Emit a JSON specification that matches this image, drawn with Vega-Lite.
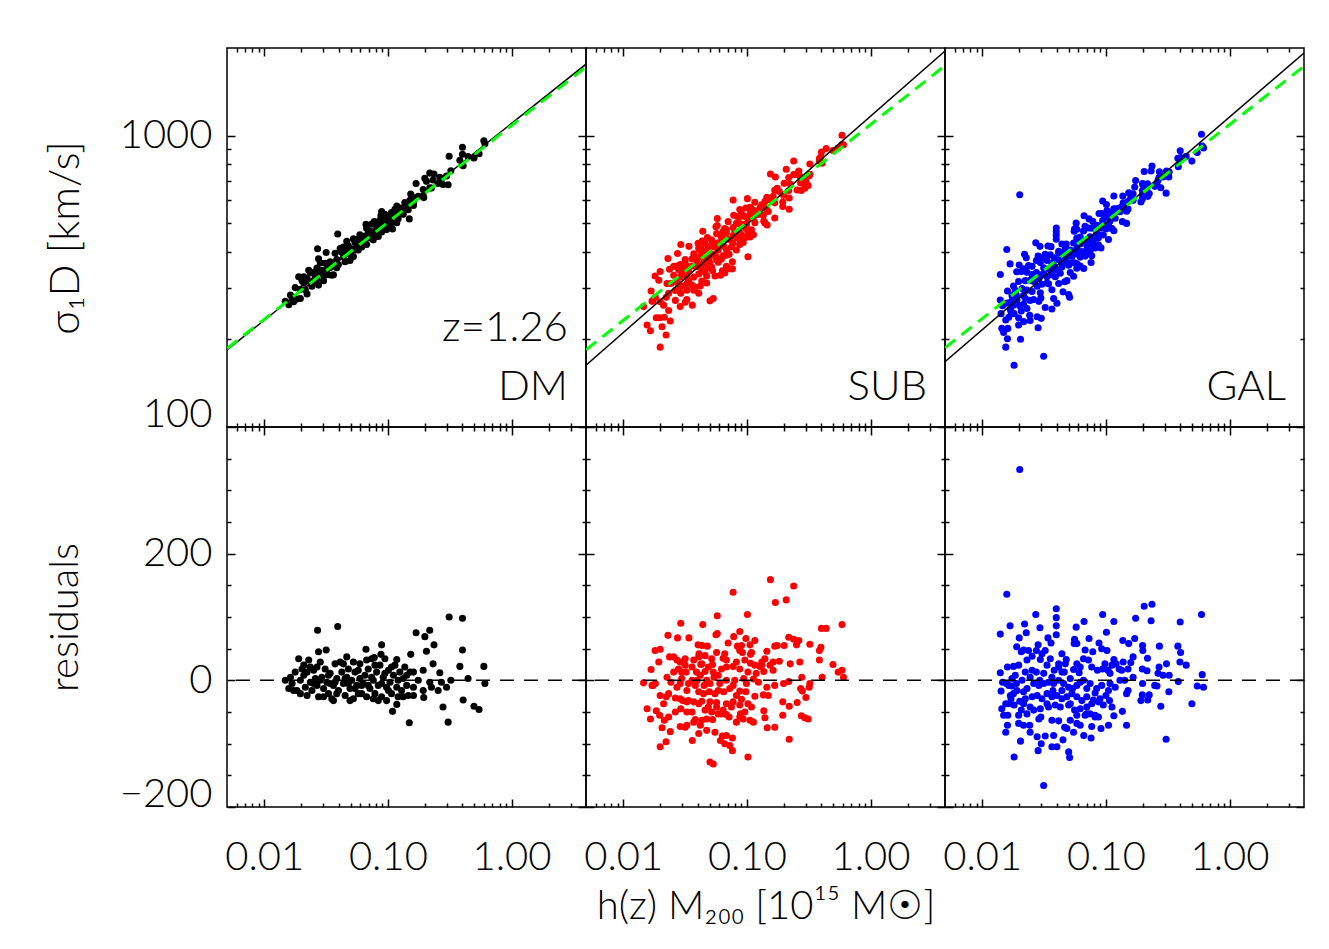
{
"$schema":"https://vega.github.io/schema/vega-lite/v6.json",
"background":"white",
"padding":{"left":43,"top":46,"right":5,"bottom":5},
"config":{"view":{"stroke":"black","strokeWidth":1.5},"concat":{"spacing":0},
"axis":{"grid":false,"domain":false,"tickColor":"black","tickWidth":1.5,"labelFont":"Lato","labelFontWeight":300,"labelFontSize":40,"labelColor":"black","titleFont":"Lato","titleFontWeight":300,"titleFontSize":40,"titleColor":"black"}},
"datasets":{
"dml":[{"x":0.005,"y":184},{"x":4,"y":1760}],
"dmg":[{"x":0.005,"y":186},{"x":4,"y":1720}],
"subl":[{"x":0.005,"y":163},{"x":4,"y":1954}],
"subg":[{"x":0.005,"y":184},{"x":4,"y":1740}],
"gall":[{"x":0.005,"y":167.5},{"x":4,"y":1922}],
"galg":[{"x":0.005,"y":187},{"x":4,"y":1732}],
"dm":[{"x":0.0148,"s":270,"r":0},{"x":0.0158,"s":263,"r":-13},{"x":0.0168,"s":277,"r":-5},{"x":0.0178,"s":301,"r":13},{"x":0.019,"s":328,"r":34},{"x":0.0196,"s":297,"r":0},{"x":0.0202,"s":318,"r":18},{"x":0.0209,"s":312,"r":8},{"x":0.0215,"s":296,"r":-11},{"x":0.0222,"s":323,"r":13},{"x":0.0229,"s":345,"r":32},{"x":0.0236,"s":314,"r":-3},{"x":0.0243,"s":304,"r":-16},{"x":0.0251,"s":339,"r":16},{"x":0.0259,"s":330,"r":3},{"x":0.0267,"s":322,"r":-8},{"x":0.0275,"s":307,"r":-26},{"x":0.0284,"s":366,"r":29},{"x":0.0292,"s":345,"r":5},{"x":0.0302,"s":331,"r":-13},{"x":0.0311,"s":365,"r":18},{"x":0.0321,"s":348,"r":-3},{"x":0.0331,"s":333,"r":-21},{"x":0.0341,"s":369,"r":11},{"x":0.0352,"s":332,"r":-29},{"x":0.0363,"s":357,"r":-8},{"x":0.0374,"s":395,"r":26},{"x":0.0386,"s":376,"r":3},{"x":0.0398,"s":361,"r":-16},{"x":0.0411,"s":410,"r":29},{"x":0.0424,"s":398,"r":13},{"x":0.0437,"s":384,"r":-5},{"x":0.0451,"s":369,"r":-24},{"x":0.0465,"s":402,"r":5},{"x":0.0479,"s":419,"r":18},{"x":0.0494,"s":392,"r":-13},{"x":0.051,"s":409,"r":0},{"x":0.0526,"s":385,"r":-29},{"x":0.0542,"s":431,"r":13},{"x":0.0559,"s":414,"r":-8},{"x":0.0576,"s":442,"r":16},{"x":0.0594,"s":434,"r":3},{"x":0.0614,"s":415,"r":-21},{"x":0.0632,"s":435,"r":-5},{"x":0.0652,"s":452,"r":8},{"x":0.0673,"s":423,"r":-26},{"x":0.0694,"s":472,"r":18},{"x":0.0716,"s":446,"r":-13},{"x":0.0739,"s":497,"r":34},{"x":0.0762,"s":468,"r":0},{"x":0.0786,"s":452,"r":-21},{"x":0.0811,"s":491,"r":13},{"x":0.0836,"s":475,"r":-8},{"x":0.0862,"s":512,"r":24},{"x":0.089,"s":467,"r":-26},{"x":0.0918,"s":503,"r":5},{"x":0.0946,"s":537,"r":34},{"x":0.0976,"s":497,"r":-11},{"x":0.101,"s":530,"r":16},{"x":0.104,"s":516,"r":-3},{"x":0.107,"s":503,"r":-21},{"x":0.111,"s":538,"r":8},{"x":0.114,"s":559,"r":24},{"x":0.118,"s":530,"r":-11},{"x":0.121,"s":545,"r":0},{"x":0.125,"s":564,"r":13},{"x":0.129,"s":541,"r":-16},{"x":0.133,"s":566,"r":3},{"x":0.137,"s":590,"r":21},{"x":0.142,"s":567,"r":-8},{"x":0.146,"s":557,"r":-24},{"x":0.151,"s":600,"r":13},{"x":0.161,"s":613,"r":13},{"x":0.161,"s":589,"r":-11},{"x":0.161,"s":576,"r":-24},{"x":0.176,"s":619,"r":0},{"x":0.193,"s":654,"r":16},{"x":0.193,"s":622,"r":-16},{"x":0.195,"s":613,"r":-27},{"x":0.205,"s":697,"r":46},{"x":0.218,"s":662,"r":-3},{"x":0.225,"s":661,"r":-11},{"x":0.232,"s":705,"r":26},{"x":0.236,"s":739,"r":56},{"x":0.255,"s":685,"r":-16},{"x":0.263,"s":720,"r":12},{"x":0.271,"s":712,"r":-3},{"x":0.279,"s":680,"r":-42},{"x":0.298,"s":727,"r":-11},{"x":0.307,"s":679,"r":-66},{"x":0.323,"s":758,"r":0},{"x":0.313,"s":850,"r":100},{"x":0.401,"s":913,"r":98},{"x":0.401,"s":863,"r":48},{"x":0.382,"s":824,"r":22},{"x":0.406,"s":788,"r":-31},{"x":0.445,"s":848,"r":3},{"x":0.497,"s":839,"r":-41},{"x":0.546,"s":867,"r":-46},{"x":0.597,"s":960,"r":22},{"x":0.609,"s":938,"r":-5},{"x":0.169,"s":685,"r":75},{"x":0.199,"s":714,"r":69},{"x":0.218,"s":744,"r":79},{"x":0.153,"s":631,"r":41},{"x":0.149,"s":518,"r":-67},{"x":0.109,"s":478,"r":-49},{"x":0.118,"s":503,"r":-38},{"x":0.118,"s":574,"r":33},{"x":0.089,"s":549,"r":56},{"x":0.0879,"s":532,"r":41},{"x":0.0776,"s":507,"r":36},{"x":0.0665,"s":496,"r":49},{"x":0.0317,"s":397,"r":48},{"x":0.0275,"s":378,"r":45},{"x":0.027,"s":409,"r":79},{"x":0.0393,"s":460,"r":85},{"x":0.0209,"s":328,"r":24},{"x":0.0236,"s":338,"r":21},{"x":0.0184,"s":275,"r":-16},{"x":0.0267,"s":351,"r":21},{"x":0.0302,"s":318,"r":-26},{"x":0.0363,"s":333,"r":-32},{"x":0.0494,"s":373,"r":-32},{"x":0.0437,"s":415,"r":26},{"x":0.0594,"s":457,"r":26},{"x":0.0673,"s":481,"r":32},{"x":0.0222,"s":286,"r":-24},{"x":0.0341,"s":353,"r":-5},{"x":0.0526,"s":443,"r":29},{"x":0.0836,"s":451,"r":-32},{"x":0.0976,"s":476,"r":-32},{"x":0.0331,"s":362,"r":8},{"x":0.0374,"s":366,"r":-3},{"x":0.0451,"s":396,"r":3},{"x":0.0542,"s":405,"r":-13},{"x":0.0614,"s":428,"r":-8},{"x":0.0739,"s":468,"r":5},{"x":0.089,"s":488,"r":-5},{"x":0.101,"s":498,"r":-16},{"x":0.121,"s":519,"r":-26},{"x":0.0196,"s":276,"r":-21},{"x":0.0163,"s":284,"r":5},{"x":0.0173,"s":269,"r":-16},{"x":0.0251,"s":318,"r":-5},{"x":0.0284,"s":337,"r":0},{"x":0.0386,"s":352,"r":-21},{"x":0.0479,"s":396,"r":-5},{"x":0.0576,"s":405,"r":-21},{"x":0.0694,"s":446,"r":-8},{"x":0.0786,"s":497,"r":24},{"x":0.0946,"s":514,"r":11},{"x":0.107,"s":545,"r":21},{"x":0.133,"s":537,"r":-26},{"x":0.142,"s":583,"r":8},{"x":0.0762,"s":439,"r":-29},{"x":0.0465,"s":434,"r":37}],
"sub":[{"x":0.155,"s":739,"r":159},{"x":0.239,"s":819,"r":149},{"x":0.0774,"s":601,"r":139},{"x":0.208,"s":767,"r":127},{"x":0.17,"s":721,"r":123},{"x":0.101,"s":608,"r":104},{"x":0.0576,"s":520,"r":102},{"x":0.0292,"s":423,"r":90},{"x":0.044,"s":470,"r":88},{"x":0.401,"s":879,"r":82},{"x":0.438,"s":903,"r":82},{"x":0.588,"s":1004,"r":88},{"x":0.023,"s":379,"r":71},{"x":0.0275,"s":394,"r":67},{"x":0.034,"s":417,"r":67},{"x":0.0562,"s":487,"r":72},{"x":0.0576,"s":492,"r":74},{"x":0.0783,"s":533,"r":69},{"x":0.0876,"s":558,"r":77},{"x":0.0981,"s":565,"r":66},{"x":0.116,"s":591,"r":63},{"x":0.0705,"s":507,"r":59},{"x":0.218,"s":718,"r":68},{"x":0.239,"s":735,"r":65},{"x":0.263,"s":756,"r":63},{"x":0.252,"s":739,"r":56},{"x":0.323,"s":799,"r":57},{"x":0.397,"s":847,"r":52},{"x":0.386,"s":834,"r":47},{"x":0.0403,"s":427,"r":56},{"x":0.0435,"s":435,"r":55},{"x":0.0479,"s":447,"r":54},{"x":0.0839,"s":528,"r":54},{"x":0.0905,"s":541,"r":55},{"x":0.106,"s":568,"r":56},{"x":0.168,"s":650,"r":54},{"x":0.176,"s":660,"r":55},{"x":0.2,"s":686,"r":55},{"x":0.0181,"s":330,"r":47},{"x":0.0199,"s":342,"r":49},{"x":0.0237,"s":348,"r":37},{"x":0.0256,"s":356,"r":37},{"x":0.0272,"s":357,"r":32},{"x":0.0317,"s":376,"r":34},{"x":0.041,"s":415,"r":42},{"x":0.0459,"s":426,"r":39},{"x":0.0569,"s":461,"r":44},{"x":0.0662,"s":480,"r":42},{"x":0.0642,"s":469,"r":35},{"x":0.0876,"s":528,"r":47},{"x":0.0921,"s":533,"r":44},{"x":0.109,"s":561,"r":44},{"x":0.145,"s":614,"r":46},{"x":0.163,"s":619,"r":29},{"x":0.154,"s":603,"r":24},{"x":0.183,"s":643,"r":30},{"x":0.132,"s":579,"r":29},{"x":0.128,"s":567,"r":22},{"x":0.224,"s":682,"r":26},{"x":0.268,"s":726,"r":29},{"x":0.386,"s":819,"r":32},{"x":0.497,"s":889,"r":25},{"x":0.547,"s":907,"r":13},{"x":0.588,"s":932,"r":16},{"x":0.604,"s":930,"r":5},{"x":0.406,"s":805,"r":5},{"x":0.278,"s":711,"r":5},{"x":0.323,"s":737,"r":-5},{"x":0.319,"s":728,"r":-11},{"x":0.198,"s":624,"r":-5},{"x":0.218,"s":648,"r":-2},{"x":0.163,"s":606,"r":16},{"x":0.137,"s":571,"r":14},{"x":0.119,"s":543,"r":11},{"x":0.107,"s":541,"r":27},{"x":0.102,"s":518,"r":13},{"x":0.0876,"s":499,"r":18},{"x":0.0774,"s":484,"r":22},{"x":0.0683,"s":464,"r":21},{"x":0.0623,"s":448,"r":18},{"x":0.0528,"s":431,"r":25},{"x":0.0488,"s":416,"r":21},{"x":0.0424,"s":402,"r":25},{"x":0.0408,"s":409,"r":37},{"x":0.0391,"s":380,"r":13},{"x":0.042,"s":384,"r":8},{"x":0.0473,"s":391,"r":0},{"x":0.0542,"s":415,"r":5},{"x":0.0587,"s":429,"r":8},{"x":0.0683,"s":443,"r":0},{"x":0.0798,"s":467,"r":0},{"x":0.0943,"s":496,"r":3},{"x":0.113,"s":525,"r":2},{"x":0.132,"s":574,"r":24},{"x":0.0194,"s":319,"r":29},{"x":0.0168,"s":293,"r":17},{"x":0.0146,"s":259,"r":-4},{"x":0.0174,"s":272,"r":-8},{"x":0.0182,"s":279,"r":-5},{"x":0.0226,"s":311,"r":5},{"x":0.0243,"s":311,"r":-3},{"x":0.0256,"s":332,"r":13},{"x":0.028,"s":347,"r":18},{"x":0.0297,"s":348,"r":13},{"x":0.0323,"s":357,"r":13},{"x":0.0297,"s":338,"r":3},{"x":0.0337,"s":344,"r":-5},{"x":0.0383,"s":356,"r":-8},{"x":0.0327,"s":329,"r":-16},{"x":0.0272,"s":314,"r":-11},{"x":0.0233,"s":288,"r":-21},{"x":0.0199,"s":269,"r":-24},{"x":0.0223,"s":279,"r":-26},{"x":0.0408,"s":354,"r":-18},{"x":0.0446,"s":363,"r":-21},{"x":0.0497,"s":380,"r":-18},{"x":0.0552,"s":391,"r":-21},{"x":0.0587,"s":405,"r":-16},{"x":0.065,"s":418,"r":-18},{"x":0.0727,"s":439,"r":-13},{"x":0.0876,"s":464,"r":-17},{"x":0.0981,"s":481,"r":-18},{"x":0.116,"s":503,"r":-25},{"x":0.136,"s":533,"r":-23},{"x":0.149,"s":549,"r":-24},{"x":0.0992,"s":496,"r":-5},{"x":0.0823,"s":447,"r":-24},{"x":0.0264,"s":294,"r":-28},{"x":0.0289,"s":303,"r":-29},{"x":0.0303,"s":305,"r":-32},{"x":0.0337,"s":317,"r":-32},{"x":0.0372,"s":327,"r":-34},{"x":0.0432,"s":347,"r":-33},{"x":0.0503,"s":366,"r":-34},{"x":0.0569,"s":382,"r":-35},{"x":0.0683,"s":406,"r":-37},{"x":0.0774,"s":428,"r":-34},{"x":0.0905,"s":456,"r":-30},{"x":0.102,"s":468,"r":-37},{"x":0.109,"s":475,"r":-42},{"x":0.075,"s":415,"r":-42},{"x":0.0642,"s":387,"r":-47},{"x":0.0569,"s":375,"r":-42},{"x":0.0408,"s":335,"r":-37},{"x":0.0292,"s":288,"r":-45},{"x":0.036,"s":307,"r":-50},{"x":0.0327,"s":295,"r":-50},{"x":0.0156,"s":224,"r":-45},{"x":0.0185,"s":237,"r":-48},{"x":0.0166,"s":214,"r":-61},{"x":0.0197,"s":237,"r":-55},{"x":0.0215,"s":238,"r":-63},{"x":0.0233,"s":251,"r":-58},{"x":0.0206,"s":221,"r":-75},{"x":0.024,"s":231,"r":-81},{"x":0.0289,"s":259,"r":-73},{"x":0.0317,"s":268,"r":-74},{"x":0.0327,"s":274,"r":-71},{"x":0.0383,"s":302,"r":-62},{"x":0.0432,"s":317,"r":-63},{"x":0.0473,"s":330,"r":-61},{"x":0.0528,"s":344,"r":-62},{"x":0.0623,"s":377,"r":-53},{"x":0.0683,"s":389,"r":-54},{"x":0.0876,"s":423,"r":-58},{"x":0.0887,"s":430,"r":-53},{"x":0.106,"s":449,"r":-63},{"x":0.113,"s":457,"r":-66},{"x":0.137,"s":509,"r":-48},{"x":0.195,"s":592,"r":-34},{"x":0.22,"s":611,"r":-41},{"x":0.195,"s":571,"r":-55},{"x":0.255,"s":651,"r":-35},{"x":0.276,"s":648,"r":-56},{"x":0.294,"s":660,"r":-59},{"x":0.313,"s":674,"r":-61},{"x":0.3,"s":697,"r":-27},{"x":0.272,"s":688,"r":-13},{"x":0.281,"s":691,"r":-17},{"x":0.14,"s":502,"r":-59},{"x":0.168,"s":522,"r":-74},{"x":0.146,"s":494,"r":-75},{"x":0.22,"s":559,"r":-93},{"x":0.102,"s":384,"r":-121},{"x":0.0503,"s":271,"r":-129},{"x":0.0535,"s":276,"r":-132},{"x":0.0683,"s":356,"r":-87},{"x":0.0634,"s":344,"r":-88},{"x":0.0611,"s":332,"r":-95},{"x":0.0662,"s":338,"r":-100},{"x":0.0727,"s":349,"r":-103},{"x":0.0764,"s":349,"r":-111},{"x":0.0764,"s":369,"r":-91},{"x":0.0552,"s":330,"r":-82},{"x":0.0408,"s":288,"r":-84},{"x":0.0362,"s":262,"r":-95},{"x":0.0222,"s":207,"r":-97},{"x":0.0199,"s":188,"r":-105},{"x":0.0473,"s":312,"r":-79},{"x":0.042,"s":305,"r":-71},{"x":0.0372,"s":295,"r":-66},{"x":0.0876,"s":442,"r":-39},{"x":0.0962,"s":446,"r":-50},{"x":0.0934,"s":430,"r":-61},{"x":0.0823,"s":405,"r":-66},{"x":0.0718,"s":392,"r":-58},{"x":0.0587,"s":368,"r":-53},{"x":0.0519,"s":354,"r":-50},{"x":0.0488,"s":353,"r":-42},{"x":0.0459,"s":340,"r":-47},{"x":0.0327,"s":311,"r":-34},{"x":0.0264,"s":272,"r":-50},{"x":0.0212,"s":262,"r":-37},{"x":0.0171,"s":270,"r":-8},{"x":0.0289,"s":327,"r":-5},{"x":0.036,"s":357,"r":0},{"x":0.0396,"s":368,"r":0},{"x":0.0451,"s":377,"r":-8},{"x":0.0503,"s":395,"r":-5},{"x":0.0604,"s":420,"r":-5},{"x":0.0774,"s":454,"r":-8},{"x":0.0535,"s":421,"r":13},{"x":0.0459,"s":401,"r":14},{"x":0.036,"s":378,"r":21},{"x":0.0317,"s":366,"r":24},{"x":0.0289,"s":361,"r":29},{"x":0.0372,"s":393,"r":32},{"x":0.0432,"s":406,"r":26},{"x":0.0519,"s":438,"r":34},{"x":0.0683,"s":475,"r":32},{"x":0.0823,"s":500,"r":29},{"x":0.0962,"s":528,"r":32},{"x":0.107,"s":555,"r":41},{"x":0.116,"s":552,"r":24},{"x":0.14,"s":595,"r":34},{"x":0.124,"s":536,"r":-3},{"x":0.145,"s":557,"r":-11},{"x":0.168,"s":588,"r":-8}],
"gal":[{"x":0.0201,"s":627,"r":333},{"x":0.0158,"s":407,"r":136},{"x":0.0397,"s":482,"r":113},{"x":0.204,"s":753,"r":117},{"x":0.236,"s":787,"r":120},{"x":0.593,"s":1012,"r":104},{"x":0.0942,"s":597,"r":104},{"x":0.0271,"s":429,"r":104},{"x":0.0397,"s":468,"r":99},{"x":0.0666,"s":531,"r":93},{"x":0.116,"s":621,"r":93},{"x":0.0168,"s":363,"r":86},{"x":0.022,"s":392,"r":89},{"x":0.0293,"s":417,"r":83},{"x":0.0575,"s":501,"r":84},{"x":0.174,"s":702,"r":98},{"x":0.232,"s":757,"r":94},{"x":0.399,"s":887,"r":92},{"x":0.014,"s":334,"r":73},{"x":0.0199,"s":360,"r":67},{"x":0.0227,"s":381,"r":75},{"x":0.0397,"s":455,"r":86},{"x":0.0397,"s":441,"r":72},{"x":0.034,"s":418,"r":67},{"x":0.0558,"s":478,"r":65},{"x":0.0731,"s":518,"r":66},{"x":0.101,"s":580,"r":76},{"x":0.036,"s":416,"r":59},{"x":0.0283,"s":386,"r":56},{"x":0.0554,"s":470,"r":58},{"x":0.088,"s":541,"r":59},{"x":0.019,"s":341,"r":53},{"x":0.0216,"s":349,"r":48},{"x":0.0237,"s":358,"r":47},{"x":0.0274,"s":373,"r":47},{"x":0.0323,"s":392,"r":47},{"x":0.137,"s":621,"r":63},{"x":0.153,"s":637,"r":58},{"x":0.171,"s":667,"r":66},{"x":0.198,"s":685,"r":55},{"x":0.199,"s":678,"r":47},{"x":0.271,"s":752,"r":54},{"x":0.382,"s":837,"r":54},{"x":0.402,"s":841,"r":44},{"x":0.397,"s":822,"r":29},{"x":0.446,"s":849,"r":24},{"x":0.309,"s":756,"r":26},{"x":0.269,"s":718,"r":21},{"x":0.264,"s":703,"r":11},{"x":0.29,"s":722,"r":8},{"x":0.325,"s":750,"r":8},{"x":0.217,"s":684,"r":35},{"x":0.166,"s":632,"r":37},{"x":0.159,"s":614,"r":28},{"x":0.138,"s":588,"r":29},{"x":0.128,"s":563,"r":18},{"x":0.116,"s":561,"r":33},{"x":0.102,"s":553,"r":47},{"x":0.0925,"s":540,"r":50},{"x":0.0783,"s":508,"r":45},{"x":0.0679,"s":489,"r":48},{"x":0.0582,"s":477,"r":58},{"x":0.0441,"s":425,"r":42},{"x":0.0478,"s":425,"r":33},{"x":0.0415,"s":401,"r":26},{"x":0.0355,"s":390,"r":34},{"x":0.0304,"s":380,"r":42},{"x":0.0295,"s":367,"r":33},{"x":0.0253,"s":356,"r":38},{"x":0.023,"s":340,"r":32},{"x":0.0197,"s":316,"r":24},{"x":0.0179,"s":305,"r":22},{"x":0.0207,"s":342,"r":45},{"x":0.014,"s":273,"r":12},{"x":0.0146,"s":261,"r":-3},{"x":0.0142,"s":245,"r":-17},{"x":0.0164,"s":267,"r":-8},{"x":0.0174,"s":271,"r":-9},{"x":0.0189,"s":283,"r":-5},{"x":0.021,"s":299,"r":0},{"x":0.0244,"s":319,"r":5},{"x":0.0274,"s":339,"r":13},{"x":0.0314,"s":352,"r":11},{"x":0.0334,"s":373,"r":24},{"x":0.0382,"s":381,"r":16},{"x":0.0415,"s":396,"r":21},{"x":0.047,"s":416,"r":26},{"x":0.0548,"s":428,"r":17},{"x":0.0608,"s":437,"r":12},{"x":0.0659,"s":471,"r":34},{"x":0.0723,"s":482,"r":32},{"x":0.0768,"s":481,"r":21},{"x":0.0854,"s":493,"r":16},{"x":0.0942,"s":511,"r":18},{"x":0.104,"s":525,"r":16},{"x":0.112,"s":546,"r":24},{"x":0.0983,"s":526,"r":26},{"x":0.108,"s":526,"r":11},{"x":0.121,"s":561,"r":26},{"x":0.134,"s":570,"r":16},{"x":0.151,"s":594,"r":18},{"x":0.197,"s":647,"r":18},{"x":0.215,"s":662,"r":15},{"x":0.248,"s":670,"r":-8},{"x":0.259,"s":679,"r":-9},{"x":0.198,"s":625,"r":-5},{"x":0.197,"s":606,"r":-23},{"x":0.192,"s":592,"r":-32},{"x":0.224,"s":633,"r":-23},{"x":0.218,"s":619,"r":-31},{"x":0.278,"s":663,"r":-41},{"x":0.323,"s":722,"r":-18},{"x":0.385,"s":783,"r":-2},{"x":0.548,"s":875,"r":-9},{"x":0.616,"s":908,"r":-11},{"x":0.601,"s":921,"r":9},{"x":0.496,"s":818,"r":-37},{"x":0.307,"s":635,"r":-93},{"x":0.147,"s":500,"r":-71},{"x":0.136,"s":507,"r":-49},{"x":0.151,"s":560,"r":-16},{"x":0.147,"s":550,"r":-21},{"x":0.116,"s":472,"r":-56},{"x":0.105,"s":440,"r":-71},{"x":0.0913,"s":412,"r":-76},{"x":0.0768,"s":387,"r":-73},{"x":0.0701,"s":393,"r":-53},{"x":0.0662,"s":350,"r":-87},{"x":0.0759,"s":367,"r":-91},{"x":0.0818,"s":415,"r":-55},{"x":0.087,"s":422,"r":-58},{"x":0.112,"s":480,"r":-42},{"x":0.107,"s":482,"r":-32},{"x":0.1,"s":478,"r":-24},{"x":0.0897,"s":456,"r":-29},{"x":0.0843,"s":462,"r":-13},{"x":0.0925,"s":482,"r":-8},{"x":0.108,"s":510,"r":-5},{"x":0.119,"s":521,"r":-11},{"x":0.0745,"s":450,"r":-5},{"x":0.0659,"s":437,"r":0},{"x":0.0582,"s":411,"r":-8},{"x":0.0537,"s":395,"r":-13},{"x":0.05,"s":387,"r":-11},{"x":0.0455,"s":381,"r":-5},{"x":0.0415,"s":375,"r":0},{"x":0.0378,"s":358,"r":-5},{"x":0.0344,"s":349,"r":-3},{"x":0.0314,"s":336,"r":-5},{"x":0.0287,"s":323,"r":-8},{"x":0.0261,"s":316,"r":-5},{"x":0.023,"s":295,"r":-13},{"x":0.0216,"s":283,"r":-18},{"x":0.0191,"s":273,"r":-16},{"x":0.0179,"s":262,"r":-21},{"x":0.0169,"s":253,"r":-24},{"x":0.0164,"s":238,"r":-37},{"x":0.0181,"s":245,"r":-39},{"x":0.0201,"s":261,"r":-33},{"x":0.0223,"s":276,"r":-29},{"x":0.0253,"s":292,"r":-26},{"x":0.0278,"s":304,"r":-24},{"x":0.0304,"s":309,"r":-29},{"x":0.0334,"s":328,"r":-21},{"x":0.0366,"s":333,"r":-26},{"x":0.0402,"s":347,"r":-24},{"x":0.0441,"s":354,"r":-29},{"x":0.0484,"s":368,"r":-26},{"x":0.0531,"s":385,"r":-21},{"x":0.0582,"s":393,"r":-26},{"x":0.0639,"s":400,"r":-32},{"x":0.0701,"s":420,"r":-26},{"x":0.0792,"s":434,"r":-31},{"x":0.087,"s":446,"r":-34},{"x":0.0953,"s":456,"r":-39},{"x":0.0144,"s":218,"r":-45},{"x":0.0149,"s":211,"r":-55},{"x":0.0161,"s":218,"r":-55},{"x":0.0197,"s":237,"r":-55},{"x":0.0207,"s":250,"r":-47},{"x":0.023,"s":255,"r":-53},{"x":0.0261,"s":274,"r":-47},{"x":0.0295,"s":289,"r":-45},{"x":0.0344,"s":310,"r":-42},{"x":0.039,"s":328,"r":-39},{"x":0.0428,"s":337,"r":-42},{"x":0.05,"s":359,"r":-39},{"x":0.0558,"s":366,"r":-47},{"x":0.062,"s":383,"r":-45},{"x":0.0679,"s":386,"r":-55},{"x":0.0745,"s":402,"r":-53},{"x":0.0818,"s":412,"r":-58},{"x":0.0582,"s":364,"r":-55},{"x":0.0515,"s":339,"r":-63},{"x":0.0415,"s":311,"r":-64},{"x":0.0366,"s":296,"r":-63},{"x":0.0298,"s":277,"r":-58},{"x":0.0287,"s":270,"r":-61},{"x":0.0242,"s":242,"r":-71},{"x":0.0216,"s":230,"r":-71},{"x":0.0197,"s":224,"r":-68},{"x":0.016,"s":201,"r":-71},{"x":0.0155,"s":188,"r":-82},{"x":0.0244,"s":232,"r":-82},{"x":0.0278,"s":239,"r":-89},{"x":0.0323,"s":257,"r":-88},{"x":0.0378,"s":276,"r":-87},{"x":0.0464,"s":315,"r":-74},{"x":0.0484,"s":318,"r":-76},{"x":0.0548,"s":329,"r":-82},{"x":0.0582,"s":351,"r":-68},{"x":0.062,"s":357,"r":-71},{"x":0.045,"s":291,"r":-94},{"x":0.0366,"s":254,"r":-105},{"x":0.0402,"s":266,"r":-105},{"x":0.0283,"s":219,"r":-111},{"x":0.03,"s":236,"r":-100},{"x":0.0204,"s":200,"r":-96},{"x":0.0181,"s":163,"r":-121},{"x":0.05,"s":285,"r":-113},{"x":0.0509,"s":279,"r":-122},{"x":0.0314,"s":175,"r":-166},{"x":0.0515,"s":405,"r":3},{"x":0.0461,"s":401,"r":13},{"x":0.062,"s":425,"r":-3},{"x":0.0701,"s":433,"r":-13},{"x":0.0818,"s":450,"r":-20},{"x":0.105,"s":495,"r":-16},{"x":0.13,"s":548,"r":0},{"x":0.142,"s":565,"r":0},{"x":0.166,"s":600,"r":5},{"x":0.062,"s":449,"r":21},{"x":0.0582,"s":445,"r":26},{"x":0.0441,"s":396,"r":13},{"x":0.0366,"s":364,"r":5},{"x":0.0292,"s":333,"r":0},{"x":0.0253,"s":334,"r":16},{"x":0.0223,"s":318,"r":13},{"x":0.0174,"s":283,"r":3},{"x":0.0157,"s":266,"r":-5},{"x":0.0155,"s":233,"r":-37},{"x":0.0171,"s":249,"r":-29},{"x":0.0216,"s":264,"r":-37},{"x":0.0244,"s":272,"r":-42},{"x":0.0334,"s":312,"r":-37},{"x":0.0373,"s":346,"r":-16},{"x":0.0441,"s":367,"r":-16},{"x":0.0515,"s":365,"r":-37},{"x":0.0701,"s":404,"r":-42},{"x":0.0768,"s":423,"r":-37},{"x":0.016,"s":293,"r":21},{"x":0.0185,"s":294,"r":8}]
},
"columns":3,
"spacing":0,
"bounds":"flush",
"align":"each",
"concat":[
{"width":359,"height":379,"resolve":{"axis":{"x":"independent","y":"independent"}},"layer":[
{"data":{"name":"dm"},"mark":{"type":"circle","size":50,"color":"black","opacity":1},"encoding":{"x":{"field":"x","type":"quantitative","scale":{"type":"log","domain":[0.005,4],"nice":false},"axis":{"orient":"bottom","values":[0.01,0.1,1],"tickSize":-8,"labels":false,"title":null}},"y":{"field":"s","type":"quantitative","scale":{"type":"log","domain":[100,2000],"nice":false},"axis":{"orient":"left","values":[100,1000],"tickSize":-8,"labels":true,"format":"d","labelPadding":23,"labelFlush":true,"labelFlushOffset":7,"labelOverlap":false,"title":"σ₁D [km/s]","titleX":-162,"titleY":189.5,"titleAngle":-90,"titleAlign":"center","titleBaseline":"middle","titleFontSize":42}}}},
{"data":{"name":"dml"},"mark":{"type":"line","color":"black","strokeWidth":1.5,"clip":true},"encoding":{"x":{"field":"x","type":"quantitative","scale":{"type":"log","domain":[0.005,4],"nice":false},"axis":{"orient":"top","values":[0.01,0.1,1],"tickSize":-8,"labels":false,"title":null}},"y":{"field":"y","type":"quantitative","scale":{"type":"log","domain":[100,2000],"nice":false},"axis":{"orient":"right","values":[100,1000],"tickSize":-8,"labels":false,"title":null}}}},
{"data":{"name":"dmg"},"mark":{"type":"line","color":"#00ff00","strokeWidth":3,"strokeDash":[13,8],"clip":true},"encoding":{"x":{"field":"x","type":"quantitative","scale":{"type":"log","domain":[0.005,4],"nice":false},"axis":{"orient":"bottom","values":[0.006,0.007,0.008,0.009,0.02,0.03,0.04,0.05,0.06,0.07,0.08,0.09,0.2,0.3,0.4,0.5,0.6,0.7,0.8,0.9,2,3],"tickSize":-4,"labels":false,"title":null}},"y":{"field":"y","type":"quantitative","scale":{"type":"log","domain":[100,2000],"nice":false},"axis":{"orient":"left","values":[200,300,400,500,600,700,800,900],"tickSize":-4,"labels":false,"title":null}}}},
{"data":{"values":[{}]},"mark":{"type":"text","align":"right","baseline":"middle","fontSize":42,"font":"Lato","fontWeight":300,"color":"black"},"encoding":{"x":{"datum":2.86,"type":"quantitative","scale":{"type":"log","domain":[0.005,4],"nice":false},"axis":{"orient":"top","values":[0.006,0.007,0.008,0.009,0.02,0.03,0.04,0.05,0.06,0.07,0.08,0.09,0.2,0.3,0.4,0.5,0.6,0.7,0.8,0.9,2,3],"tickSize":-4,"labels":false,"title":null}},"y":{"datum":218,"type":"quantitative","scale":{"type":"log","domain":[100,2000],"nice":false},"axis":{"orient":"right","values":[200,300,400,500,600,700,800,900],"tickSize":-4,"labels":false,"title":null}},"text":{"value":"z=1.26"}}},
{"data":{"values":[{}]},"mark":{"type":"text","align":"right","baseline":"middle","fontSize":42,"font":"Lato","fontWeight":300,"color":"black"},"encoding":{"x":{"datum":2.86,"type":"quantitative","scale":{"type":"log","domain":[0.005,4],"nice":false},"axis":null},"y":{"datum":137,"type":"quantitative","scale":{"type":"log","domain":[100,2000],"nice":false},"axis":null},"text":{"value":"DM"}}}
]},
{"width":359,"height":379,"resolve":{"axis":{"x":"independent","y":"independent"}},"layer":[
{"data":{"name":"sub"},"mark":{"type":"circle","size":50,"color":"#ff0000","opacity":1},"encoding":{"x":{"field":"x","type":"quantitative","scale":{"type":"log","domain":[0.005,4],"nice":false},"axis":{"orient":"bottom","values":[0.01,0.1,1],"tickSize":-8,"labels":false,"title":null}},"y":{"field":"s","type":"quantitative","scale":{"type":"log","domain":[100,2000],"nice":false},"axis":{"orient":"left","values":[100,1000],"tickSize":-8,"labels":false,"title":null}}}},
{"data":{"name":"subl"},"mark":{"type":"line","color":"black","strokeWidth":1.5,"clip":true},"encoding":{"x":{"field":"x","type":"quantitative","scale":{"type":"log","domain":[0.005,4],"nice":false},"axis":{"orient":"top","values":[0.01,0.1,1],"tickSize":-8,"labels":false,"title":null}},"y":{"field":"y","type":"quantitative","scale":{"type":"log","domain":[100,2000],"nice":false},"axis":{"orient":"right","values":[100,1000],"tickSize":-8,"labels":false,"title":null}}}},
{"data":{"name":"subg"},"mark":{"type":"line","color":"#00ff00","strokeWidth":3,"strokeDash":[13,8],"clip":true},"encoding":{"x":{"field":"x","type":"quantitative","scale":{"type":"log","domain":[0.005,4],"nice":false},"axis":{"orient":"bottom","values":[0.006,0.007,0.008,0.009,0.02,0.03,0.04,0.05,0.06,0.07,0.08,0.09,0.2,0.3,0.4,0.5,0.6,0.7,0.8,0.9,2,3],"tickSize":-4,"labels":false,"title":null}},"y":{"field":"y","type":"quantitative","scale":{"type":"log","domain":[100,2000],"nice":false},"axis":{"orient":"left","values":[200,300,400,500,600,700,800,900],"tickSize":-4,"labels":false,"title":null}}}},
{"data":{"values":[{}]},"mark":{"type":"text","align":"right","baseline":"middle","fontSize":42,"font":"Lato","fontWeight":300,"color":"black"},"encoding":{"x":{"datum":2.86,"type":"quantitative","scale":{"type":"log","domain":[0.005,4],"nice":false},"axis":{"orient":"top","values":[0.006,0.007,0.008,0.009,0.02,0.03,0.04,0.05,0.06,0.07,0.08,0.09,0.2,0.3,0.4,0.5,0.6,0.7,0.8,0.9,2,3],"tickSize":-4,"labels":false,"title":null}},"y":{"datum":137,"type":"quantitative","scale":{"type":"log","domain":[100,2000],"nice":false},"axis":{"orient":"right","values":[200,300,400,500,600,700,800,900],"tickSize":-4,"labels":false,"title":null}},"text":{"value":"SUB"}}}
]},
{"width":359,"height":379,"resolve":{"axis":{"x":"independent","y":"independent"}},"layer":[
{"data":{"name":"gal"},"mark":{"type":"circle","size":50,"color":"#0000ff","opacity":1},"encoding":{"x":{"field":"x","type":"quantitative","scale":{"type":"log","domain":[0.005,4],"nice":false},"axis":{"orient":"bottom","values":[0.01,0.1,1],"tickSize":-8,"labels":false,"title":null}},"y":{"field":"s","type":"quantitative","scale":{"type":"log","domain":[100,2000],"nice":false},"axis":{"orient":"left","values":[100,1000],"tickSize":-8,"labels":false,"title":null}}}},
{"data":{"name":"gall"},"mark":{"type":"line","color":"black","strokeWidth":1.5,"clip":true},"encoding":{"x":{"field":"x","type":"quantitative","scale":{"type":"log","domain":[0.005,4],"nice":false},"axis":{"orient":"top","values":[0.01,0.1,1],"tickSize":-8,"labels":false,"title":null}},"y":{"field":"y","type":"quantitative","scale":{"type":"log","domain":[100,2000],"nice":false},"axis":{"orient":"right","values":[100,1000],"tickSize":-8,"labels":false,"title":null}}}},
{"data":{"name":"galg"},"mark":{"type":"line","color":"#00ff00","strokeWidth":3,"strokeDash":[13,8],"clip":true},"encoding":{"x":{"field":"x","type":"quantitative","scale":{"type":"log","domain":[0.005,4],"nice":false},"axis":{"orient":"bottom","values":[0.006,0.007,0.008,0.009,0.02,0.03,0.04,0.05,0.06,0.07,0.08,0.09,0.2,0.3,0.4,0.5,0.6,0.7,0.8,0.9,2,3],"tickSize":-4,"labels":false,"title":null}},"y":{"field":"y","type":"quantitative","scale":{"type":"log","domain":[100,2000],"nice":false},"axis":{"orient":"left","values":[200,300,400,500,600,700,800,900],"tickSize":-4,"labels":false,"title":null}}}},
{"data":{"values":[{}]},"mark":{"type":"text","align":"right","baseline":"middle","fontSize":42,"font":"Lato","fontWeight":300,"color":"black"},"encoding":{"x":{"datum":2.86,"type":"quantitative","scale":{"type":"log","domain":[0.005,4],"nice":false},"axis":{"orient":"top","values":[0.006,0.007,0.008,0.009,0.02,0.03,0.04,0.05,0.06,0.07,0.08,0.09,0.2,0.3,0.4,0.5,0.6,0.7,0.8,0.9,2,3],"tickSize":-4,"labels":false,"title":null}},"y":{"datum":137,"type":"quantitative","scale":{"type":"log","domain":[100,2000],"nice":false},"axis":{"orient":"right","values":[200,300,400,500,600,700,800,900],"tickSize":-4,"labels":false,"title":null}},"text":{"value":"GAL"}}}
]},
{"width":359,"height":380,"resolve":{"axis":{"x":"independent","y":"independent"}},"layer":[
{"data":{"name":"dm"},"mark":{"type":"circle","size":50,"color":"black","opacity":1},"encoding":{"x":{"field":"x","type":"quantitative","scale":{"type":"log","domain":[0.005,4],"nice":false},"axis":{"orient":"bottom","values":[0.01,0.1,1],"tickSize":-8,"labels":true,"format":".2f","labelPadding":38,"labelFlush":false,"labelOverlap":false,"title":null}},"y":{"field":"r","type":"quantitative","scale":{"type":"linear","domain":[-200,400],"nice":false,"zero":false},"axis":{"orient":"left","values":[-200,0,200],"tickSize":-8,"labels":true,"format":"d","labelPadding":23,"labelFlush":true,"labelFlushOffset":7,"labelOverlap":false,"title":"residuals","titleX":-162,"titleY":190,"titleAngle":-90,"titleAlign":"center","titleBaseline":"middle"}}}},
{"data":{"values":[{}]},"mark":{"type":"point","opacity":0},"encoding":{"x":{"datum":0.1,"type":"quantitative","scale":{"type":"log","domain":[0.005,4],"nice":false},"axis":{"orient":"top","values":[0.01,0.1,1],"tickSize":-8,"labels":false,"title":null}},"y":{"datum":0,"type":"quantitative","scale":{"type":"linear","domain":[-200,400],"nice":false,"zero":false},"axis":{"orient":"right","values":[-200,0,200],"tickSize":-8,"labels":false,"title":null}}}},
{"data":{"values":[{}]},"mark":{"type":"point","opacity":0},"encoding":{"x":{"datum":0.1,"type":"quantitative","scale":{"type":"log","domain":[0.005,4],"nice":false},"axis":{"orient":"bottom","values":[0.006,0.007,0.008,0.009,0.02,0.03,0.04,0.05,0.06,0.07,0.08,0.09,0.2,0.3,0.4,0.5,0.6,0.7,0.8,0.9,2,3],"tickSize":-4,"labels":false,"title":null}},"y":{"datum":0,"type":"quantitative","scale":{"type":"linear","domain":[-200,400],"nice":false,"zero":false},"axis":{"orient":"left","values":[-150,-100,-50,50,100,150,250,300,350],"tickSize":-4,"labels":false,"title":null}}}},
{"data":{"values":[{}]},"mark":{"type":"point","opacity":0},"encoding":{"x":{"datum":0.1,"type":"quantitative","scale":{"type":"log","domain":[0.005,4],"nice":false},"axis":{"orient":"top","values":[0.006,0.007,0.008,0.009,0.02,0.03,0.04,0.05,0.06,0.07,0.08,0.09,0.2,0.3,0.4,0.5,0.6,0.7,0.8,0.9,2,3],"tickSize":-4,"labels":false,"title":null}},"y":{"datum":0,"type":"quantitative","scale":{"type":"linear","domain":[-200,400],"nice":false,"zero":false},"axis":{"orient":"right","values":[-150,-100,-50,50,100,150,250,300,350],"tickSize":-4,"labels":false,"title":null}}}},
{"data":{"values":[{}]},"mark":{"type":"rule","color":"black","strokeWidth":1.5,"strokeDash":[14,10]},"encoding":{"y":{"datum":0,"type":"quantitative","scale":{"type":"linear","domain":[-200,400],"nice":false,"zero":false},"axis":null}}}
]},
{"width":359,"height":380,"resolve":{"axis":{"x":"independent","y":"independent"}},"layer":[
{"data":{"name":"sub"},"mark":{"type":"circle","size":50,"color":"#ff0000","opacity":1},"encoding":{"x":{"field":"x","type":"quantitative","scale":{"type":"log","domain":[0.005,4],"nice":false},"axis":{"orient":"bottom","values":[0.01,0.1,1],"tickSize":-8,"labels":true,"format":".2f","labelPadding":38,"labelFlush":false,"labelOverlap":false,"title":"h(z) M₂₀₀ [10¹⁵ M☉]","titleX":179.5,"titleY":99,"titleAlign":"center","titleBaseline":"middle","titleAngle":0}},"y":{"field":"r","type":"quantitative","scale":{"type":"linear","domain":[-200,400],"nice":false,"zero":false},"axis":{"orient":"left","values":[-200,0,200],"tickSize":-8,"labels":false,"title":null}}}},
{"data":{"values":[{}]},"mark":{"type":"point","opacity":0},"encoding":{"x":{"datum":0.1,"type":"quantitative","scale":{"type":"log","domain":[0.005,4],"nice":false},"axis":{"orient":"top","values":[0.01,0.1,1],"tickSize":-8,"labels":false,"title":null}},"y":{"datum":0,"type":"quantitative","scale":{"type":"linear","domain":[-200,400],"nice":false,"zero":false},"axis":{"orient":"right","values":[-200,0,200],"tickSize":-8,"labels":false,"title":null}}}},
{"data":{"values":[{}]},"mark":{"type":"point","opacity":0},"encoding":{"x":{"datum":0.1,"type":"quantitative","scale":{"type":"log","domain":[0.005,4],"nice":false},"axis":{"orient":"bottom","values":[0.006,0.007,0.008,0.009,0.02,0.03,0.04,0.05,0.06,0.07,0.08,0.09,0.2,0.3,0.4,0.5,0.6,0.7,0.8,0.9,2,3],"tickSize":-4,"labels":false,"title":null}},"y":{"datum":0,"type":"quantitative","scale":{"type":"linear","domain":[-200,400],"nice":false,"zero":false},"axis":{"orient":"left","values":[-150,-100,-50,50,100,150,250,300,350],"tickSize":-4,"labels":false,"title":null}}}},
{"data":{"values":[{}]},"mark":{"type":"point","opacity":0},"encoding":{"x":{"datum":0.1,"type":"quantitative","scale":{"type":"log","domain":[0.005,4],"nice":false},"axis":{"orient":"top","values":[0.006,0.007,0.008,0.009,0.02,0.03,0.04,0.05,0.06,0.07,0.08,0.09,0.2,0.3,0.4,0.5,0.6,0.7,0.8,0.9,2,3],"tickSize":-4,"labels":false,"title":null}},"y":{"datum":0,"type":"quantitative","scale":{"type":"linear","domain":[-200,400],"nice":false,"zero":false},"axis":{"orient":"right","values":[-150,-100,-50,50,100,150,250,300,350],"tickSize":-4,"labels":false,"title":null}}}},
{"data":{"values":[{}]},"mark":{"type":"rule","color":"black","strokeWidth":1.5,"strokeDash":[14,10]},"encoding":{"y":{"datum":0,"type":"quantitative","scale":{"type":"linear","domain":[-200,400],"nice":false,"zero":false},"axis":null}}}
]},
{"width":359,"height":380,"resolve":{"axis":{"x":"independent","y":"independent"}},"layer":[
{"data":{"name":"gal"},"mark":{"type":"circle","size":50,"color":"#0000ff","opacity":1},"encoding":{"x":{"field":"x","type":"quantitative","scale":{"type":"log","domain":[0.005,4],"nice":false},"axis":{"orient":"bottom","values":[0.01,0.1,1],"tickSize":-8,"labels":true,"format":".2f","labelPadding":38,"labelFlush":false,"labelOverlap":false,"title":null}},"y":{"field":"r","type":"quantitative","scale":{"type":"linear","domain":[-200,400],"nice":false,"zero":false},"axis":{"orient":"left","values":[-200,0,200],"tickSize":-8,"labels":false,"title":null}}}},
{"data":{"values":[{}]},"mark":{"type":"point","opacity":0},"encoding":{"x":{"datum":0.1,"type":"quantitative","scale":{"type":"log","domain":[0.005,4],"nice":false},"axis":{"orient":"top","values":[0.01,0.1,1],"tickSize":-8,"labels":false,"title":null}},"y":{"datum":0,"type":"quantitative","scale":{"type":"linear","domain":[-200,400],"nice":false,"zero":false},"axis":{"orient":"right","values":[-200,0,200],"tickSize":-8,"labels":false,"title":null}}}},
{"data":{"values":[{}]},"mark":{"type":"point","opacity":0},"encoding":{"x":{"datum":0.1,"type":"quantitative","scale":{"type":"log","domain":[0.005,4],"nice":false},"axis":{"orient":"bottom","values":[0.006,0.007,0.008,0.009,0.02,0.03,0.04,0.05,0.06,0.07,0.08,0.09,0.2,0.3,0.4,0.5,0.6,0.7,0.8,0.9,2,3],"tickSize":-4,"labels":false,"title":null}},"y":{"datum":0,"type":"quantitative","scale":{"type":"linear","domain":[-200,400],"nice":false,"zero":false},"axis":{"orient":"left","values":[-150,-100,-50,50,100,150,250,300,350],"tickSize":-4,"labels":false,"title":null}}}},
{"data":{"values":[{}]},"mark":{"type":"point","opacity":0},"encoding":{"x":{"datum":0.1,"type":"quantitative","scale":{"type":"log","domain":[0.005,4],"nice":false},"axis":{"orient":"top","values":[0.006,0.007,0.008,0.009,0.02,0.03,0.04,0.05,0.06,0.07,0.08,0.09,0.2,0.3,0.4,0.5,0.6,0.7,0.8,0.9,2,3],"tickSize":-4,"labels":false,"title":null}},"y":{"datum":0,"type":"quantitative","scale":{"type":"linear","domain":[-200,400],"nice":false,"zero":false},"axis":{"orient":"right","values":[-150,-100,-50,50,100,150,250,300,350],"tickSize":-4,"labels":false,"title":null}}}},
{"data":{"values":[{}]},"mark":{"type":"rule","color":"black","strokeWidth":1.5,"strokeDash":[14,10]},"encoding":{"y":{"datum":0,"type":"quantitative","scale":{"type":"linear","domain":[-200,400],"nice":false,"zero":false},"axis":null}}}
]}
]
}
